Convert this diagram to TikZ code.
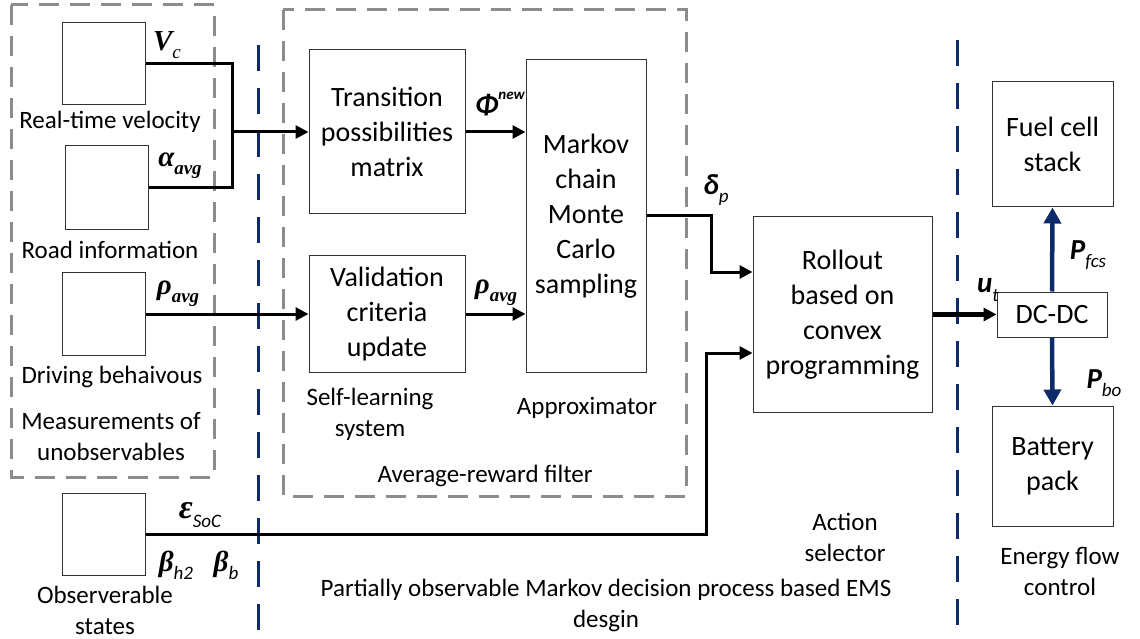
\documentclass[tikz,border=0pt]{standalone}
\usepackage{fontspec}
\setmainfont{Carlito}
\newfontfamily\tms{Liberation Serif}
\usetikzlibrary{arrows.meta}
\definecolor{navy}{HTML}{0D2A6B}
\definecolor{grpgray}{HTML}{8C8C8C}
% small raised / lowered index text
\newcommand\lowtxt[1]{\raisebox{-0.28em}{\fontsize{19}{19}\selectfont #1}}
\newcommand\hightxt[1]{\raisebox{0.5em}{\fontsize{15}{15}\selectfont #1}}
\begin{document}
\begin{tikzpicture}[x=1pt,y=-1pt,
  blk/.style={draw=black!80, line width=1pt, fill=white, inner sep=0pt},
  grp/.style={draw=grpgray, line width=3pt, dash pattern=on 20pt off 11pt},
  sep/.style={draw=navy, line width=3pt, dash pattern=on 26pt off 17pt},
  link/.style={draw=black, line width=3pt, -{Triangle[length=13pt,width=13pt]}},
  flow/.style={draw=navy, line width=4.5pt, -{Triangle[length=16pt,width=17pt]}},
  txt/.style={font=\fontsize{28}{35}\selectfont, align=center},
  lbl/.style={font=\fontsize{25}{31}\selectfont, align=center},
  sym/.style={inner sep=0pt, font=\fontsize{29}{29}\selectfont}]
\useasboundingbox (0,0) rectangle (1140,639);

% grouping frames
\draw[grp] (11,5) rectangle (214,477);
\draw[grp] (283,10) rectangle (686,496);

% separators between stages
\draw[sep] (258,45) -- (258,639);
\draw[sep] (957,40) -- (957,639);

% measurement boxes
\node[blk, minimum width=83pt, minimum height=82pt] (vc) at (103.5,64) {};
\node[blk, minimum width=83pt, minimum height=83pt] (road) at (106.5,187.5) {};
\node[blk, minimum width=83pt, minimum height=83pt] (drive) at (103.5,314) {};
\node[blk, minimum width=83pt, minimum height=82pt] (obs) at (103.5,534) {};

\node[lbl] (tvc) at (110,122) {Real-time velocity};
\node[lbl] (troad) at (110,250) {Road information};
\node[lbl] (tdrive) at (112,377) {Driving behaivous};
\node[lbl] (tmeas) at (111,437) {Measurements of\\unobservables};
\node[lbl] (tobs) at (105,610) {Observerable\\states};

% processing blocks
\node[blk, txt, minimum width=156pt, minimum height=164pt] (trans) at (387,132) {Transition\\possibilities\\matrix};
\node[blk, txt, minimum width=156pt, minimum height=117pt] (valid) at (387,314) {Validation\\criteria\\update};
\node[blk, txt, minimum width=120pt, minimum height=312pt] (mcmc) at (586,216) {Markov\\chain\\Monte\\Carlo\\sampling};
\node[blk, txt, minimum width=179pt, minimum height=195pt] (roll) at (842.5,314.5) {Rollout\\based on\\convex\\programming};
\node[blk, txt, minimum width=110pt, minimum height=45pt] (dcdc) at (1052,314.5) {DC-DC};
\node[blk, txt, minimum width=121pt, minimum height=125pt] (fuel) at (1052.5,144.5) {Fuel cell\\stack};
\node[blk, txt, minimum width=121pt, minimum height=120pt] (batt) at (1052.5,466) {Battery\\pack};

\node[lbl] (tself) at (370,414) {Self-learning\\system};
\node[lbl] (tappr) at (587,408) {Approximator};
\node[lbl] (tfilt) at (485,476) {Average-reward filter};
\node[lbl] (tact) at (845,537) {Action\\selector};
\node[lbl] (tpomdp) at (606,605) {Partially observable Markov decision process based EMS\\desgin};
\node[lbl] (tenergy) at (1060,571) {Energy flow\\control};

% signal lines
\coordinate (j) at (232,132);
\draw[line width=3pt] (vc.east) -| (j);
\draw[line width=3pt] (road.east) -| (j);
\draw[link] (j) -- (trans.west);
\draw[link] (drive.east) -- (valid.west);
\draw[link] (trans.east) -- (trans.east -| mcmc.west);
\draw[link] (valid.east) -- (valid.east -| mcmc.west);
\draw[link] (mcmc.east) -| ([xshift=-41pt,yshift=42.5pt]roll.west) -- ([yshift=42.5pt]roll.west);
\draw[link] (obs.east) -| ([xshift=-46pt,yshift=-38.5pt]roll.west) -- ([yshift=-38.5pt]roll.west);
\draw[link, line width=5pt] (roll.east) -- (dcdc.west);
\draw[flow] (dcdc.north) -- (fuel.south);
\draw[flow] (dcdc.south) -- (batt.north);

% signal names
\node[sym] (svc) at (167,45) {\tms\bfseries\itshape V\lowtxt{\mdseries c}};
\node[sym] (sal) at (180,166) {\tms\bfseries\itshape α\lowtxt{avg}};
\node[sym] (srho) at (178,294) {\tms\bfseries\itshape ρ\lowtxt{avg}};
\node[sym] (srho2) at (496,293) {\tms\bfseries\itshape ρ\lowtxt{avg}};
\node[sym] (sphi) at (500,104) {\bfseries\itshape Φ\hightxt{new}};
\node[sym] (sdel) at (716,190) {\bfseries\itshape δ\lowtxt{\mdseries p}};
\node[sym] (seps) at (200,515) {\tms\bfseries\itshape\fontsize{34}{34}\selectfont ε\lowtxt{\normalfont\itshape SoC}};
\node[sym] (sbh) at (176,565) {\tms\bfseries\itshape β\lowtxt{\normalfont\itshape h2}};
\node[sym] (sbb) at (226,565) {\tms\bfseries\itshape β\lowtxt{\normalfont\itshape b}};
\node[sym] (sut) at (988,290) {\bfseries\itshape u\lowtxt{\mdseries t}};
\node[sym] (spf) at (1088,255) {\bfseries\itshape P\lowtxt{\mdseries fcs}};
\node[sym] (spb) at (1104,383) {\bfseries\itshape P\lowtxt{\mdseries bo}};
\end{tikzpicture}
\end{document}
